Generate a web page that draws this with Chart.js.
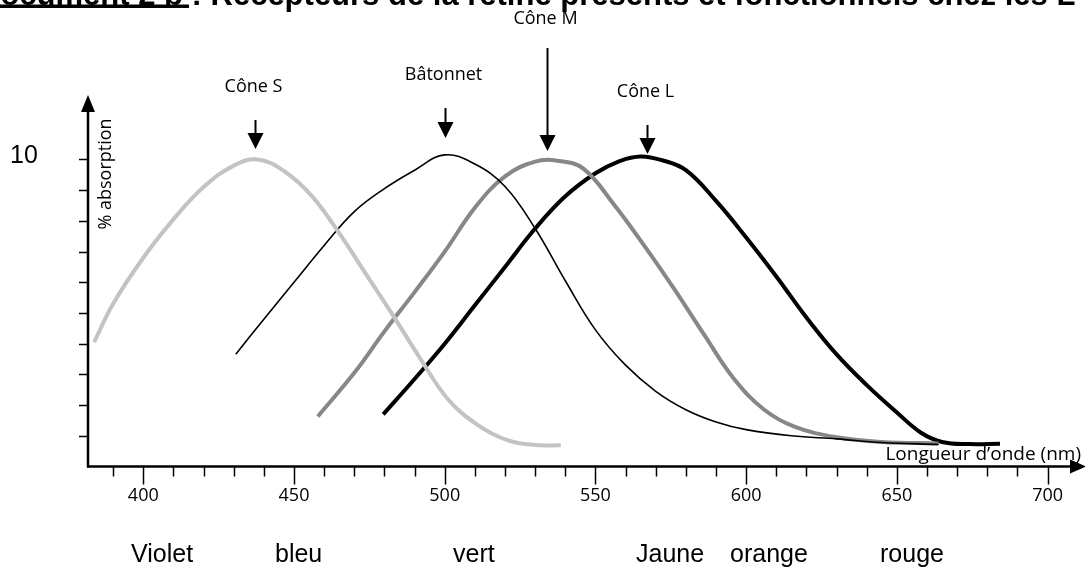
<!DOCTYPE html>
<html>
<head>
<meta charset="utf-8">
<script src="https://cdn.jsdelivr.net/npm/chart.js@4.4.1/dist/chart.umd.min.js"></script>
<style>
  body { margin: 0; background: #fff; }
  canvas { display: block; }
</style>
</head>
<body>
<canvas id="chart" width="1085" height="574"></canvas>
<script>
// DONNEES (longueur d'onde en nm, % absorption)
const nmConeS  = [383.7, 390, 400, 410, 420, 430, 438, 447, 456, 465, 474, 483, 492, 501, 511, 521, 530, 538.5];
const absConeS = [4.05, 5.3, 6.8, 8.05, 9.1, 9.8, 10, 9.6, 8.8, 7.6, 6.25, 4.9, 3.5, 2.2, 1.35, 0.85, 0.7, 0.69];

const nmBatonnet  = [430.7, 440, 450, 460, 470, 480, 490, 500, 510, 520, 530, 540, 550, 560, 570, 580, 590, 600, 615, 630, 645, 663.8];
const absBatonnet = [3.66, 4.8, 6.0, 7.2, 8.3, 9.05, 9.65, 10.15, 9.85, 9.12, 7.75, 6.05, 4.45, 3.3, 2.45, 1.85, 1.45, 1.2, 1.0, 0.9, 0.78, 0.72];

const nmConeM  = [457.9, 470, 480, 490, 500, 510, 520, 530, 538, 546, 556, 566, 576, 586, 596, 606, 616, 630, 645, 663.8];
const absConeM = [1.63, 3.05, 4.4, 5.68, 7.0, 8.43, 9.45, 9.93, 9.95, 9.7, 8.55, 7.22, 5.8, 4.3, 2.85, 1.85, 1.3, 0.95, 0.8, 0.75];

const nmConeL  = [479.6, 490, 500, 510, 520, 530, 540, 550, 558, 565, 572, 580, 590, 600, 610, 620, 630, 640, 650, 658, 665, 674, 684.2];
const absConeL = [1.7, 2.85, 4.0, 5.25, 6.5, 7.75, 8.8, 9.55, 9.95, 10.1, 9.98, 9.65, 8.65, 7.46, 6.19, 4.85, 3.65, 2.65, 1.76, 1.1, 0.8, 0.73, 0.74];

// axes
const xTickLabels = [400, 450, 500, 550, 600, 650, 700];
const yTicks = [1, 2, 3, 4, 5, 6, 7, 8, 9, 10];
const yLabel = 10;

// fleches vers les pics (nm) + noms
const peakNames = ['Cône S', 'Bâtonnet', 'Cône M', 'Cône L'];
const peakNm = [437, 500, 534, 567];

const colourNames = ['Violet', 'bleu', 'vert', 'Jaune', 'orange', 'rouge'];

//-------------------------------------------------------------------
const toPoints = (xs, ys) => xs.map((v, i) => ({ x: v, y: ys[i] }));

// position des fleches (pixels) : haut, pointe, ligne de base du texte
const arrowGeom = [
    { top: 120, tip: 149, text: 92 },
    { top: 108, tip: 138, text: 80 },
    { top: 48,  tip: 151, text: 24 },
    { top: 125, tip: 154, text: 97 }
];
const colourX = [131, 275, 453, 636, 730, 880];

function arrowDown(ctx, x, top, tip) {
    ctx.beginPath();
    ctx.moveTo(x, top);
    ctx.lineTo(x, tip - 12);
    ctx.stroke();
    ctx.beginPath();
    ctx.moveTo(x, tip);
    ctx.lineTo(x - 8, tip - 16);
    ctx.lineTo(x + 8, tip - 16);
    ctx.closePath();
    ctx.fill();
}

const figure = {
    id: 'figure',
    beforeDatasetsDraw(chart) {
        const ctx = chart.ctx;
        const xs = chart.scales.x, ys = chart.scales.y;
        const x0 = xs.left, y0 = ys.getPixelForValue(0);
        ctx.save();
        ctx.strokeStyle = '#000';
        ctx.fillStyle = '#000';

        // axe Y + fleche
        ctx.lineWidth = 2.5;
        ctx.beginPath();
        ctx.moveTo(x0, y0 + 1);
        ctx.lineTo(x0, ys.top + 12);
        ctx.stroke();
        ctx.beginPath();
        ctx.moveTo(x0, ys.top);
        ctx.lineTo(x0 - 7, ys.top + 17);
        ctx.lineTo(x0 + 7, ys.top + 17);
        ctx.closePath();
        ctx.fill();

        // axe X + fleche
        ctx.beginPath();
        ctx.moveTo(x0 - 1, y0);
        ctx.lineTo(xs.right - 10, y0);
        ctx.stroke();
        ctx.beginPath();
        ctx.moveTo(xs.right + 1, y0);
        ctx.lineTo(xs.right - 15, y0 - 7);
        ctx.lineTo(xs.right - 15, y0 + 7);
        ctx.closePath();
        ctx.fill();

        // graduations Y
        ctx.lineWidth = 1.5;
        yTicks.forEach(v => {
            const py = Math.round(ys.getPixelForValue(v)) + 0.5;
            ctx.beginPath();
            ctx.moveTo(x0 - 9, py);
            ctx.lineTo(x0, py);
            ctx.stroke();
        });

        // graduations X (toutes les 10 nm, grandes toutes les 50)
        for (let v = 390; v <= 700; v += 10) {
            const px = Math.round(xs.getPixelForValue(v)) + 0.5;
            const big = xTickLabels.includes(v);
            ctx.beginPath();
            ctx.moveTo(px, y0);
            ctx.lineTo(px, y0 + (big ? 18 : 10));
            ctx.stroke();
        }
        ctx.restore();
    },
    afterDraw(chart) {
        const ctx = chart.ctx;
        const xs = chart.scales.x, ys = chart.scales.y;
        ctx.save();
        ctx.fillStyle = '#000';
        ctx.strokeStyle = '#000';

        // titre (coupé en haut comme sur le document)
        ctx.font = 'bold 31px "Liberation Sans", Arial, sans-serif';
        ctx.textAlign = 'left';
        ctx.textBaseline = 'alphabetic';
        const part1 = 'Document 2 b';
        ctx.fillText(part1, -22, 5);
        const w1 = ctx.measureText(part1).width;
        ctx.fillRect(-22, 4.5, w1 + 6, 3.5);
        ctx.fillText(' : Récepteurs de la rétine présents et fonctionnels chez les L', -22 + w1, 5);

        // tick labels X
        ctx.font = '18px "Open Sans", sans-serif';
        ctx.textAlign = 'center';
        xTickLabels.forEach(v => {
            ctx.fillText(String(v), xs.getPixelForValue(v), 501);
        });

        // "10"
        ctx.font = '25px "Liberation Sans", Arial, sans-serif';
        ctx.textAlign = 'left';
        ctx.fillText(String(yLabel), 10, ys.getPixelForValue(yLabel) + 4);

        // titre axe Y
        ctx.font = '18px "Open Sans", sans-serif';
        ctx.save();
        ctx.translate(111, 174);
        ctx.rotate(-Math.PI / 2);
        ctx.textAlign = 'center';
        ctx.fillText('% absorption', 0, 0);
        ctx.restore();

        // titre axe X
        ctx.font = '19px "Open Sans", sans-serif';
        ctx.textAlign = 'right';
        ctx.fillText('Longueur d\u2019onde (nm)', 1081, 460);

        // fleches + noms des recepteurs
        ctx.font = '18px "Open Sans", sans-serif';
        ctx.lineWidth = 2;
        ctx.textAlign = 'center';
        peakNm.forEach((nm, i) => {
            const px = Math.round(xs.getPixelForValue(nm)) + 0.5;
            const g = arrowGeom[i];
            arrowDown(ctx, px, g.top, g.tip);
            ctx.fillText(peakNames[i], px - 2, g.text);
        });

        // couleurs
        ctx.font = '25px "Liberation Sans", Arial, sans-serif';
        ctx.textAlign = 'left';
        colourNames.forEach((c, i) => ctx.fillText(c, colourX[i], 562));

        ctx.restore();
    }
};

const lineStyle = (label, xs, ys, colour, width) => ({
    label: label,
    data: toPoints(xs, ys),
    borderColor: colour,
    borderWidth: width,
    pointRadius: 0,
    fill: false,
    tension: 0.4,
    borderCapStyle: 'butt',
    borderJoinStyle: 'round'
});

new Chart(document.getElementById('chart'), {
    type: 'line',
    data: {
        datasets: [
            lineStyle('Cône S', nmConeS, absConeS, '#c3c3c3', 4),
            lineStyle('Bâtonnet', nmBatonnet, absBatonnet, '#000000', 1.6),
            lineStyle('Cône M', nmConeM, absConeM, '#878787', 4),
            lineStyle('Cône L', nmConeL, absConeL, '#000000', 4)
        ]
    },
    options: {
        responsive: false,
        animation: false,
        devicePixelRatio: 1,
        layout: { padding: { left: 88, right: 0, top: 95, bottom: 107.5 } },
        scales: {
            x: { type: 'linear', min: 381.66, max: 712.4, display: false },
            y: { type: 'linear', min: 0, max: 12.1, display: false }
        },
        plugins: {
            legend: { display: false },
            tooltip: { enabled: false }
        }
    },
    plugins: [figure]
});
</script>
</body>
</html>
